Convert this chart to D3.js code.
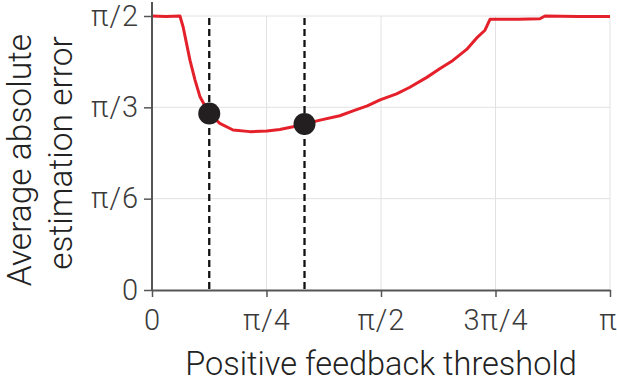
<!DOCTYPE html>
<html>
<head>
<meta charset="utf-8">
<script src="https://cdn.jsdelivr.net/npm/d3@7"></script>
<style>
  body { margin: 0; background: #fff; }
  text { font-family: Roboto, "Liberation Sans", sans-serif; font-weight: 300; }
</style>
</head>
<body>
<div id="chart"></div>
<script>
const width = 617;
const height = 385;
const margin = { top: 16, right: 7, bottom: 95, left: 152 };

// threshold and error are in units of pi
const threshold = [
  0, 0.03, 0.061, 0.068, 0.083, 0.094, 0.105, 0.125, 0.148, 0.177, 0.214,
  0.251, 0.279, 0.308, 0.333, 0.367, 0.41, 0.439, 0.47, 0.498, 0.534, 0.563,
  0.6, 0.629, 0.657, 0.687, 0.709, 0.727, 0.738, 0.8, 0.847, 0.858, 0.93, 1,
];
const meanError = [
  0.5, 0.499, 0.5, 0.48, 0.419, 0.383, 0.352, 0.322, 0.304, 0.292, 0.289,
  0.29, 0.293, 0.298, 0.303, 0.31, 0.318, 0.327, 0.336, 0.347, 0.358, 0.37,
  0.388, 0.404, 0.419, 0.439, 0.46, 0.474, 0.494, 0.494, 0.495, 0.5, 0.499, 0.499,
];

// marked thresholds (units of pi)
const markers = [0.125, 0.333];
const markerError = [0.322, 0.303];

const xTicks = [0, 0.25, 0.5, 0.75, 1];
const xTickLabels = ["0", "π/4", "π/2", "3π/4", "π"];
const yTicks = [0, 1 / 6, 1 / 3, 0.5];
const yTickLabels = ["0", "π/6", "π/3", "π/2"];

const plotW = width - margin.left - margin.right;
const plotH = height - margin.top - margin.bottom;

const svg = d3
  .select("#chart")
  .append("svg")
  .attr("width", width)
  .attr("height", height);

const g = svg
  .append("g")
  .attr("transform", `translate(${margin.left}, ${margin.top})`);

const xScale = d3.scaleLinear().domain([0, 1]).range([0, plotW]);
const yScale = d3.scaleLinear().domain([0, 0.5]).range([plotH, 0]);

// Grid
g.selectAll(".vgrid")
  .data(xTicks.slice(1))
  .enter()
  .append("line")
  .attr("x1", (d) => xScale(d))
  .attr("x2", (d) => xScale(d))
  .attr("y1", 0)
  .attr("y2", plotH)
  .attr("stroke", "#e2e2e2")
  .attr("stroke-width", 1);

g.selectAll(".hgrid")
  .data(yTicks.slice(1))
  .enter()
  .append("line")
  .attr("x1", 0)
  .attr("x2", plotW)
  .attr("y1", (d) => yScale(d))
  .attr("y2", (d) => yScale(d))
  .attr("stroke", "#e2e2e2")
  .attr("stroke-width", 1);

// Dashed marker lines
g.selectAll(".marker-line")
  .data(markers)
  .enter()
  .append("line")
  .attr("x1", (d) => xScale(d))
  .attr("x2", (d) => xScale(d))
  .attr("y1", yScale(0.5) + 2)
  .attr("y2", plotH)
  .attr("stroke", "#111")
  .attr("stroke-width", 2.3)
  .attr("stroke-dasharray", "7,4");

// Curve
const line = d3
  .line()
  .x((d, i) => xScale(threshold[i]))
  .y((d) => yScale(d));

g.append("path")
  .datum(meanError)
  .attr("fill", "none")
  .attr("stroke", "#e4202a")
  .attr("stroke-width", 3)
  .attr("stroke-linejoin", "round")
  .attr("d", line);

// Marker dots
g.selectAll(".dot")
  .data(markers)
  .enter()
  .append("circle")
  .attr("cx", (d) => xScale(d))
  .attr("cy", (d, i) => yScale(markerError[i]))
  .attr("r", 11)
  .attr("fill", "#231f20");

// Axes
const xAxis = g
  .append("g")
  .attr("transform", `translate(0, ${plotH})`)
  .call(
    d3
      .axisBottom(xScale)
      .tickValues(xTicks)
      .tickFormat((d, i) => xTickLabels[i])
      .tickSize(7)
      .tickSizeOuter(0)
      .tickPadding(12)
  );

const yAxis = g
  .append("g")
  .call(
    d3
      .axisLeft(yScale)
      .tickValues(yTicks)
      .tickFormat((d, i) => yTickLabels[i])
      .tickSize(8)
      .tickSizeOuter(0)
      .tickPadding(5)
  );

[xAxis, yAxis].forEach((a) => {
  a.select(".domain").attr("stroke", "#555").attr("stroke-width", 2);
  a.selectAll(".tick line").attr("stroke", "#555").attr("stroke-width", 1.5);
  a.selectAll(".tick text")
    .attr("fill", "#3a3a3a")
    .style("font-size", "29px")
    .style("letter-spacing", "1px");
});
xAxis.selectAll(".tick text").filter((d) => d === 1).attr("dx", -2);
yAxis.select(".domain").attr("d", `M0,${-14}V${plotH}`);

// Axis titles
svg
  .append("text")
  .attr("x", margin.left + plotW / 2)
  .attr("y", 375)
  .attr("text-anchor", "middle")
  .attr("fill", "#222")
  .style("font-size", "32.5px")
  .text("Positive feedback threshold");

const yTitle = svg
  .append("text")
  .attr("transform", `translate(0, ${margin.top + plotH / 2}) rotate(-90)`)
  .attr("text-anchor", "middle")
  .attr("fill", "#222")
  .style("font-size", "33.5px");

yTitle.append("tspan").attr("x", -7).attr("y", 31).text("Average absolute");
yTitle.append("tspan").attr("x", 0).attr("y", 72).text("estimation error");
</script>
</body>
</html>
